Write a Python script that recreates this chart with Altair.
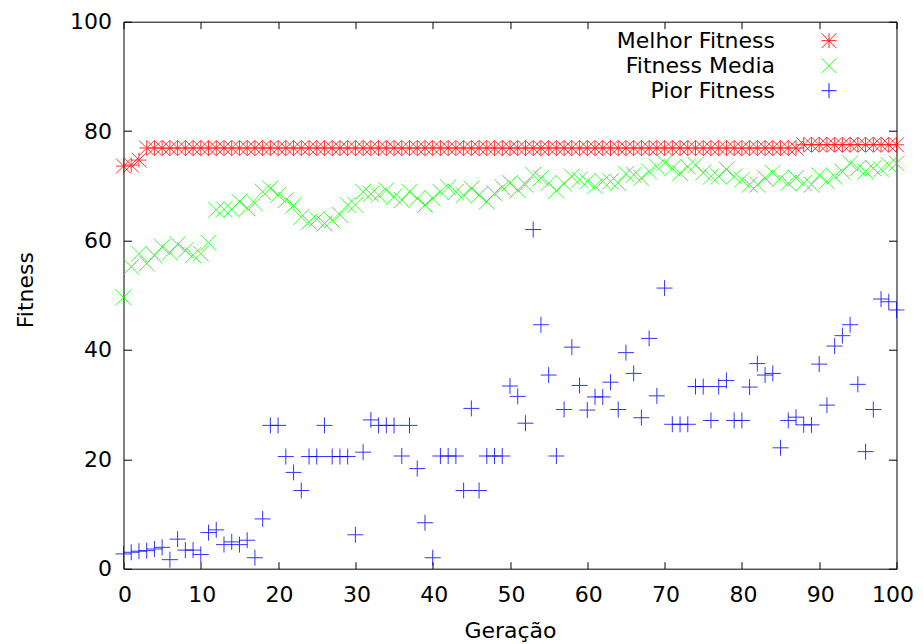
import altair as alt
import pandas as pd

geracao = list(range(101))

series = ["Melhor Fitness", "Fitness Media", "Pior Fitness"]
cores = ["#ff0000", "#00ff00", "#0000ff"]
formas = [
    "M-1,0L1,0M0,-1L0,1M-1,-1L1,1M-1,1L1,-1",
    "M-1,-1L1,1M-1,1L1,-1",
    "M-1,0L1,0M0,-1L0,1",
]

melhor = [
    73.6, 73.8, 74.7, 76.9, 76.9, 76.9, 76.9, 76.9, 76.9, 76.9,
    76.9, 76.9, 76.9, 76.9, 76.9, 76.9, 76.9, 76.9, 76.9, 76.9,
    76.9, 76.9, 76.9, 76.9, 76.9, 76.9, 76.9, 76.9, 76.9, 76.9,
    76.9, 76.9, 76.9, 76.9, 76.9, 76.9, 76.9, 76.9, 76.9, 76.9,
    76.9, 76.9, 76.9, 76.9, 76.9, 76.9, 76.9, 76.9, 76.9, 76.9,
    76.9, 76.9, 76.9, 76.9, 76.9, 76.9, 76.9, 76.9, 76.9, 76.9,
    76.9, 76.9, 76.9, 76.9, 76.9, 76.9, 76.9, 76.9, 76.9, 76.9,
    76.9, 76.9, 76.9, 76.9, 76.9, 76.9, 76.9, 76.9, 76.9, 76.9,
    76.9, 76.9, 76.9, 76.9, 76.9, 76.9, 76.9, 76.9, 77.5, 77.5,
    77.5, 77.5, 77.5, 77.5, 77.5, 77.5, 77.5, 77.5, 77.5, 77.5,
    77.5,
]

media = [
    49.6, 55.2, 57.6, 55.8, 57.3, 58.8, 57.8, 59.3, 58.2, 57.3,
    57.6, 59.6, 65.6, 65.7, 65.7, 67.1, 65.9, 66.8, 68.9, 69.5,
    68.3, 67.4, 66.4, 64.3, 63.4, 63.9, 63.1, 63.7, 64.7, 66.5,
    66.5, 68.9, 68.5, 68.3, 69.2, 68.0, 67.4, 68.9, 67.7, 66.5,
    67.7, 68.9, 69.7, 68.9, 68.3, 69.5, 68.3, 67.1, 68.6, 69.7,
    70.5, 69.2, 70.2, 72.0, 71.4, 70.5, 69.1, 70.4, 71.7, 71.1,
    70.8, 69.9, 70.8, 70.8, 70.5, 72.2, 72.0, 71.4, 72.6, 73.5,
    74.2, 73.2, 72.3, 73.5, 73.8, 72.4, 71.7, 71.7, 73.0, 71.7,
    71.1, 70.2, 70.2, 71.4, 72.4, 71.4, 70.5, 71.4, 70.5, 70.2,
    71.9, 70.8, 71.7, 72.6, 74.1, 73.2, 72.6, 73.2, 73.0, 73.8,
    74.1,
]

pior = [
    2.7, 3.0, 3.2, 3.3, 3.6, 3.9, 1.65, 5.4, 3.4, 3.4,
    2.6, 6.6, 7.1, 4.4, 4.9, 4.4, 5.2, 2.0, 9.1, 26.2,
    26.2, 20.5, 17.6, 14.3, 20.5, 20.5, 26.2, 20.5, 20.5, 20.5,
    6.2, 21.3, 27.2, 26.2, 26.2, 26.2, 20.6, 26.2, 18.3, 8.4,
    2.0, 20.6, 20.6, 20.6, 14.3, 29.3, 14.3, 20.6, 20.6, 20.6,
    33.4, 31.5, 26.6, 62.0, 44.6, 35.4, 20.6, 29.1, 40.5, 33.5,
    29.0, 31.4, 31.4, 34.1, 29.1, 39.5, 35.7, 27.6, 42.1, 31.6,
    51.3, 26.4, 26.4, 26.4, 33.3, 33.3, 27.1, 33.3, 34.4, 27.1,
    27.1, 33.2, 37.5, 35.4, 35.7, 22.1, 27.1, 27.7, 26.3, 26.3,
    37.4, 29.9, 40.7, 42.6, 44.6, 33.7, 21.4, 29.1, 49.3, 48.8,
    47.3,
]

x_ticks = [0, 10, 20, 30, 40, 50, 60, 70, 80, 90, 100]
y_ticks = [0, 20, 40, 60, 80, 100]

frames = []
for nome, vals in zip(series, [melhor, media, pior]):
    frames.append(pd.DataFrame({"gen": geracao, "valor": vals, "serie": nome}))
df = pd.concat(frames, ignore_index=True)
legenda = pd.DataFrame({"serie": series})

FONT = "DejaVu Sans"

color_enc = alt.Color("serie:N", scale=alt.Scale(domain=series, range=cores), legend=None)
shape_enc = alt.Shape("serie:N", scale=alt.Scale(domain=series, range=formas), legend=None)

xscale = alt.Scale(domain=[0, 100], nice=False, zero=False)
yscale = alt.Scale(domain=[0, 100], nice=False, zero=False)

x_bottom = alt.Axis(orient="bottom", values=x_ticks, offset=-7, tickSize=7, domain=False,
                    labelPadding=16, labelFlush=False, labelOverlap=False, grid=False,
                    labelOffset={"condition": {"test": "datum.value == 100", "value": -4},
                                 "value": 1},
                    title="Geração", titleY=75.5, titleBaseline="alphabetic")
y_left = alt.Axis(orient="left", values=y_ticks, offset=-8, tickSize=8, domain=False,
                  labelPadding=12, labelFlush=False, labelOverlap=False, grid=False,
                  title="Fitness", titleX=-99.5, titleY=268, titleAlign="center",
                  titleBaseline="alphabetic")
x_top = alt.Axis(orient="top", values=x_ticks, offset=-7, tickSize=7, domain=False,
                 labels=False, grid=False, title=None)
y_right = alt.Axis(orient="right", values=y_ticks, offset=-8, tickSize=8, domain=False,
                   labels=False, grid=False, title=None)


def camada(nome, size, xaxis, yaxis):
    return alt.Chart(df[df["serie"] == nome]).mark_point(
        filled=False, size=size, strokeWidth=1, opacity=0.8
    ).encode(
        x=alt.X("gen:Q", scale=xscale, axis=xaxis),
        y=alt.Y("valor:Q", scale=yscale, axis=yaxis),
        color=color_enc,
        shape=shape_enc,
    )


leg_y = alt.Y("serie:N", scale=alt.Scale(domain=series, range=[19, 69], type="point", padding=0),
              axis=None)

leg_sym = alt.Chart(legenda).mark_point(filled=False, size=225, strokeWidth=1, opacity=0.9).encode(
    x=alt.value(705.5), y=leg_y, color=color_enc, shape=shape_enc
)
leg_txt = alt.Chart(legenda).mark_text(
    align="right", baseline="middle", font=FONT, fontSize=22, color="#000000"
).encode(
    x=alt.value(651.5), y=leg_y, text="serie:N"
)

chart = alt.layer(
    camada("Melhor Fitness", 225, x_bottom, y_left),
    camada("Fitness Media", 256, x_top, y_right),
    camada("Pior Fitness", 256, None, None),
    leg_sym,
    leg_txt,
).resolve_scale(
    x="independent", y="independent"
).resolve_axis(
    x="independent", y="independent"
).properties(
    width=773,
    height=547,
    autosize=alt.AutoSizeParams(type="none"),
    padding={"left": 115.5, "top": 13.7, "right": 18.5, "bottom": 75},
).configure_view(
    stroke="#000000", strokeWidth=1
).configure_axis(
    labelFont=FONT, labelFontSize=22, labelColor="#000000",
    titleFont=FONT, titleFontSize=22, titleColor="#000000", titleFontWeight="normal",
    tickColor="#000000", tickWidth=1,
)

chart.save("out.html", embed_options={"renderer": "svg", "actions": False})
